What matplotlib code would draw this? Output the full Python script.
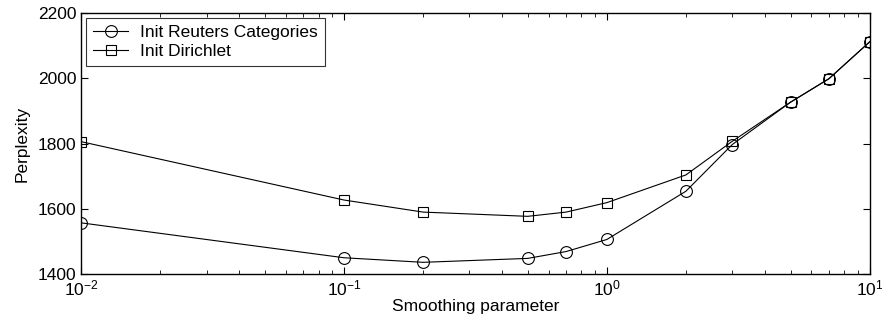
import numpy as np
import matplotlib.pyplot as plt

plt.rcParams['font.family'] = ['Liberation Sans', 'DejaVu Sans']
plt.rcParams['mathtext.fontset'] = 'custom'
plt.rcParams['mathtext.rm'] = 'Liberation Sans'
plt.rcParams['mathtext.it'] = 'Liberation Sans:italic'
plt.rcParams['mathtext.bf'] = 'Liberation Sans:bold'

x = [0.01, 0.1, 0.2, 0.5, 0.7, 1, 2, 3, 5, 7, 10]
reuters = [1557, 1450, 1436, 1448, 1469, 1506, 1654, 1797, 1927, 1999, 2112]
dirichlet = [1806, 1627, 1590, 1577, 1590, 1619, 1704, 1807, 1927, 1999, 2112]

fs = 12.5
fig = plt.figure(figsize=(8.82, 3.29), dpi=100)
ax = fig.add_axes([0.092, 0.167, 0.894, 0.793])

ax.plot(x, reuters, 'k-o', mfc='none', ms=8.5, lw=0.8, mew=0.8, label='Init Reuters Categories')
ax.plot(x, dirichlet, 'k-s', mfc='none', ms=6.5, lw=0.8, mew=0.8, label='Init Dirichlet')

ax.set_xscale('log')
ax.set_xlim(0.01, 10)
ax.set_ylim(1400, 2200)
ax.set_yticks([1400, 1600, 1800, 2000, 2200])
ax.tick_params(which='both', direction='in', top=True, right=True, labelsize=fs)
ax.tick_params(which='major', length=5)
ax.tick_params(which='minor', length=3)
ax.set_xlabel('Smoothing parameter', fontsize=fs, labelpad=0)
ax.set_ylabel('Perplexity', fontsize=fs, labelpad=6)
for s in ax.spines.values():
    s.set_linewidth(1.0)

leg = ax.legend(loc='upper left', fontsize=fs, fancybox=False, edgecolor='k',
                borderaxespad=0.3, handlelength=2, handletextpad=0.7,
                labelspacing=0.2, borderpad=0.4)
leg.get_frame().set_linewidth(0.8)

plt.savefig('out.png', dpi=100)
